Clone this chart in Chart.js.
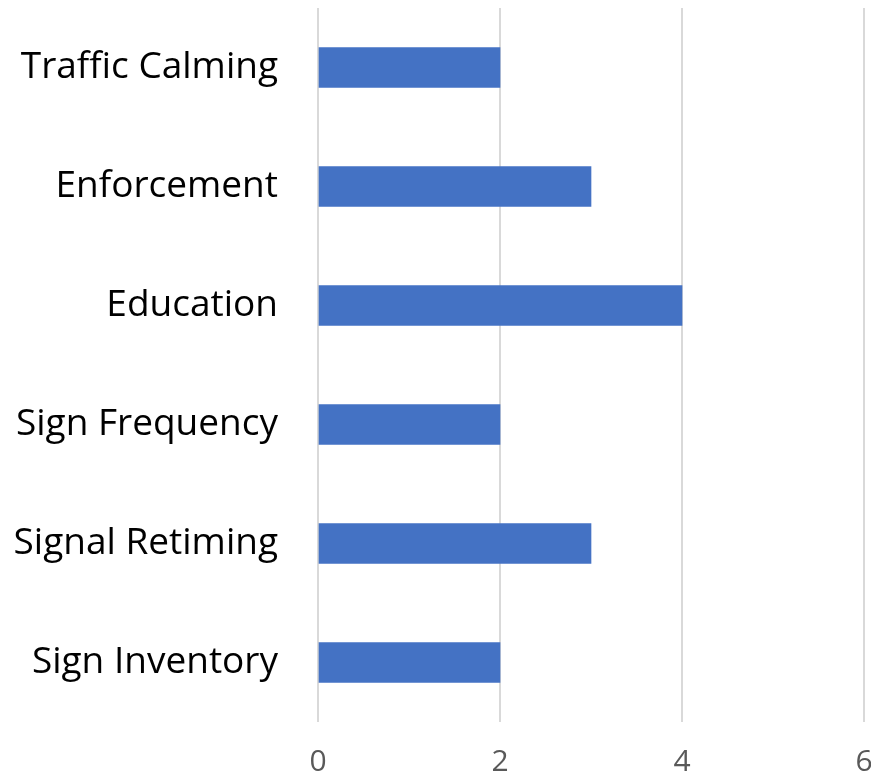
<!DOCTYPE html>
<html>
<head>
<meta charset="utf-8">
<script src="https://cdn.jsdelivr.net/npm/chart.js@4"></script>
<style>
  html, body { margin: 0; padding: 0; background: #fff; }
  #wrap { width: 871px; height: 774px; }
</style>
</head>
<body>
<div id="wrap"><canvas id="chart" width="871" height="774"></canvas></div>
<script>
// categories top to bottom, as shown
const categories = ['Traffic Calming', 'Enforcement', 'Education', 'Sign Frequency', 'Signal Retiming', 'Sign Inventory'];
const counts = [2, 3, 4, 2, 3, 2];
const xTicks = [0, 2, 4, 6];

const ctx = document.getElementById('chart').getContext('2d');
new Chart(ctx, {
    type: 'bar',
    data: {
        labels: categories,
        datasets: [{
            data: counts,
            backgroundColor: '#4472C4',
            barThickness: 40
        }]
    },
    options: {
        indexAxis: 'y',
        responsive: false,
        animation: false,
        layout: { padding: { top: 8, right: 7, left: 0, bottom: 0 } },
        plugins: { legend: { display: false }, tooltip: { enabled: false } },
        scales: {
            x: {
                min: 0,
                max: 6,
                afterBuildTicks: s => { s.ticks = xTicks.map(v => ({ value: v })); },
                grid: { color: '#D9D9D9', lineWidth: 2, drawTicks: false },
                border: { display: false },
                ticks: { color: '#595959', font: { family: 'Open Sans', size: 30 }, padding: 22 },
                afterFit: s => { s.height = 52; s.paddingLeft = 0; s.paddingRight = 0; }
            },
            y: {
                grid: { display: false, drawTicks: false },
                border: { display: false },
                ticks: { color: '#000', font: { family: 'Open Sans', size: 37 }, padding: 40 },
                afterFit: s => { s.width = 318; s.paddingTop = 0; s.paddingBottom = 0; }
            }
        }
    }
});
</script>
</body>
</html>
